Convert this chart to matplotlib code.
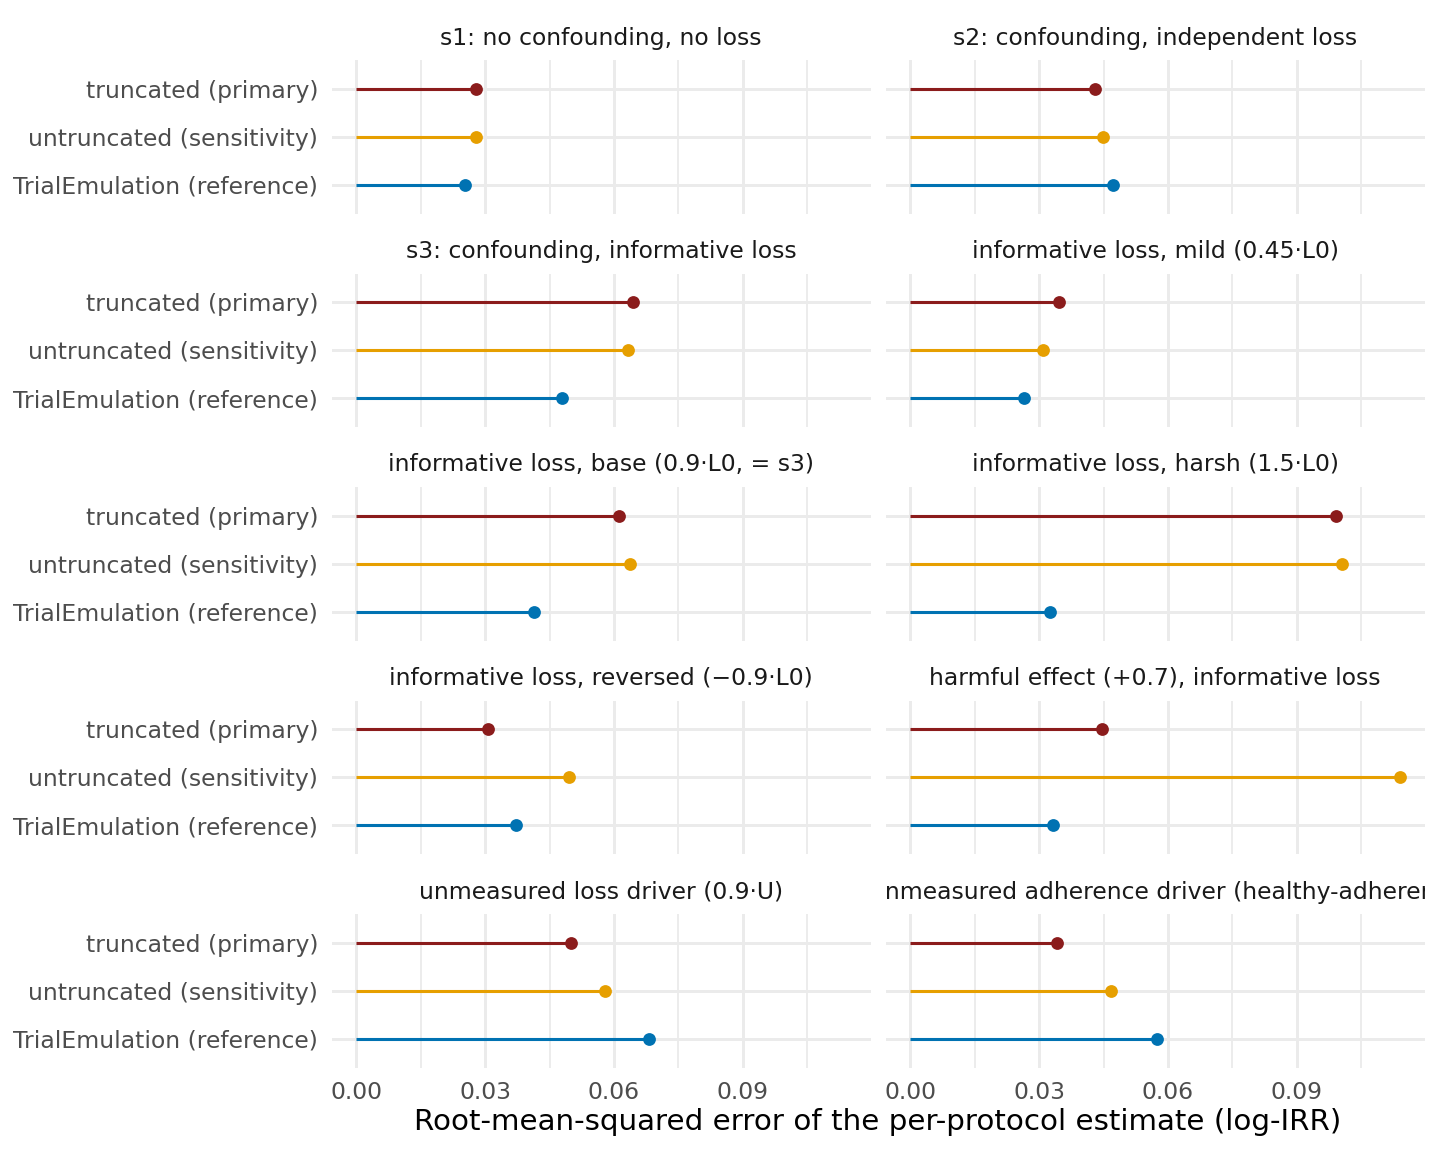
import numpy as np
import matplotlib.pyplot as plt

# =========================================================
# 数据
# =========================================================

scenarios = [
    "s1: no confounding, no loss",
    "s2: confounding, independent loss",
    "s3: confounding, informative loss",
    "informative loss, mild (0.45·L0)",
    "informative loss, base (0.9·L0, = s3)",
    "informative loss, harsh (1.5·L0)",
    "informative loss, reversed (\u22120.9·L0)",
    "harmful effect (+0.7), informative loss",
    "unmeasured loss driver (0.9·U)",
    "unmeasured adherence driver (healthy-adherer)",
]

methods = [
    "truncated (primary)",
    "untruncated (sensitivity)",
    "TrialEmulation (reference)",
]

rmse_truncated = [0.0279, 0.0430, 0.0644, 0.0347, 0.0612, 0.0991, 0.0307, 0.0447, 0.0500, 0.0342]
rmse_untruncated = [0.0279, 0.0449, 0.0633, 0.0309, 0.0637, 0.1005, 0.0495, 0.1140, 0.0579, 0.0467]
rmse_trialemulation = [0.0253, 0.0472, 0.0479, 0.0265, 0.0414, 0.0326, 0.0372, 0.0333, 0.0681, 0.0574]

method_colors = ["#8B1C1C", "#E69F00", "#0072B2"]

x_ticks = [0.00, 0.03, 0.06, 0.09]
x_minor = [0.015, 0.045, 0.075, 0.105]

# =========================================================
# 版面（像素）
# =========================================================

W, H = 1440, 1152
DPI = 192
col_x = [(331.5, 870.7), (885.5, 1424.7)]
row_top0 = 60.0
row_pitch = 213.5
panel_h = 153.6

plt.rcParams["font.family"] = ["DejaVu Sans"]

fig = plt.figure(figsize=(W / DPI, H / DPI), dpi=DPI)
fig.patch.set_facecolor("white")

values = np.array([rmse_truncated, rmse_untruncated, rmse_trialemulation])
xmax = values.max()
xlim = (-0.05 * xmax, xmax * 1.05)
y_pos = [3, 2, 1]

for i, title in enumerate(scenarios):
    r, c = divmod(i, 2)
    x0, x1 = col_x[c]
    top = row_top0 + r * row_pitch
    ax = fig.add_axes([x0 / W, 1 - (top + panel_h) / H, (x1 - x0) / W, panel_h / H])
    ax.set_xlim(*xlim)
    ax.set_ylim(0.4, 3.6)
    for s in ax.spines.values():
        s.set_visible(False)

    # 网格
    for xv in x_minor:
        ax.axvline(xv, color="#EBEBEB", lw=0.7, zorder=0)
    for xv in x_ticks:
        ax.axvline(xv, color="#EBEBEB", lw=1.1, zorder=0)
    for yv in y_pos:
        ax.axhline(yv, color="#EBEBEB", lw=1.1, zorder=0)

    for k in range(3):
        v = values[k, i]
        ax.plot([0, v], [y_pos[k], y_pos[k]], color=method_colors[k], lw=1.15,
                solid_capstyle="butt", zorder=2)
        ax.plot(v, y_pos[k], "o", color=method_colors[k], ms=4.8, mew=0, zorder=3)

    ax.tick_params(length=0, labelsize=8.8, labelcolor="#4D4D4D", pad=5)
    ax.set_xticks(x_ticks)
    if r == 4:
        ax.set_xticklabels([f"{t:.2f}" for t in x_ticks])
    else:
        ax.set_xticklabels([])
    ax.set_yticks(y_pos)
    if c == 0:
        ax.set_yticklabels(methods)
    else:
        ax.set_yticklabels([])

    # 分面标题（超出宽度时裁剪）
    sax = fig.add_axes([x0 / W, 1 - top / H, (x1 - x0) / W, 40 / H])
    sax.axis("off")
    sax.text(0.5, 0.55, title, ha="center", va="center", fontsize=8.8,
             color="#1A1A1A", transform=sax.transAxes, clip_on=True)

fig.text((331.5 + 1424.7) / 2 / W, 1 - 1122 / H,
         "Root-mean-squared error of the per-protocol estimate (log-IRR)",
         ha="center", va="center", fontsize=11, color="black")

fig.savefig("out.png", dpi=DPI, facecolor="white")
